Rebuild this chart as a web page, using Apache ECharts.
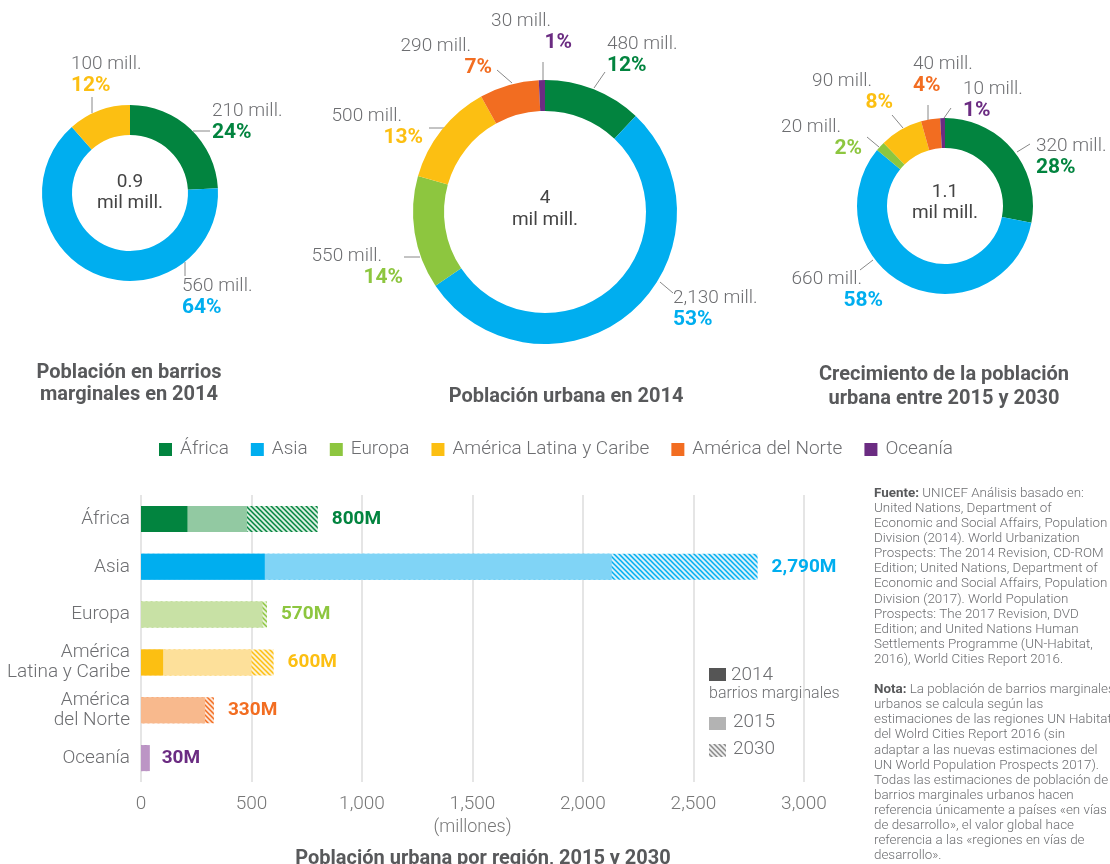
<!DOCTYPE html>
<html>
<head>
<meta charset="utf-8">
<script src="https://cdn.jsdelivr.net/npm/echarts@6/dist/echarts.min.js"></script>
<style>
	html, body { margin: 0; padding: 0; background: #fff; }
	#main { width: 1110px; height: 864px; }
</style>
</head>
<body>
<div id="main"></div>
<script>
/*datos*/
var regions = ['África', 'Asia', 'Europa', 'América Latina y Caribe', 'América del Norte', 'Oceanía'];
var regionColors = ['#02843f', '#00aeef', '#8dc63f', '#fcbf12', '#f26d21', '#6b2c82'];
var lightColors = ['#92c9a2', '#80d4f6', '#c8e1a5', '#fde09a', '#f8b98d', '#bc95c5'];
var hatchBack = ['#d9eedf', '#d6f1fc', '#e8f2da', '#fff1cf', '#fde3d2', '#ebdcee'];

var slumNames = ['África', 'Asia', 'América Latina y Caribe'];
var slumValues = [210, 560, 100];
var slumPercent = [24, 64, 12];

var urbanNames = ['África', 'Asia', 'Europa', 'América Latina y Caribe', 'América del Norte', 'Oceanía'];
var urbanValues = [480, 2130, 550, 500, 290, 30];
var urbanPercent = [12, 53, 14, 13, 7, 1];

var growthNames = ['África', 'Asia', 'Europa', 'América Latina y Caribe', 'América del Norte', 'Oceanía'];
var growthValues = [320, 660, 20, 90, 40, 10];
var growthPercent = [28, 58, 2, 8, 4, 1];

var centerTotals = ['0.9', '4', '1.1'];

var barCategories = ['África', 'Asia', 'Europa', 'América\nLatina y Caribe', 'América\ndel Norte', 'Oceanía'];
var barSlum2014 = [210, 560, null, 100, null, null];
var bar2015 = [480, 2130, 550, 500, 290, 40];
var bar2030 = [800, 2790, 570, 600, 330, 30];

/*posiciones de etiquetas: x, top, align, linea x1, y1, x2, y2*/
var pieLabelPos = [
	[
		[212, 101, 'left', 193, 131, 210, 131],
		[182, 276, 'left', 185, 262, 185, 276],
		[71, 54, 'left', 92, 113, 92, 97]
	],
	[
		[607, 34, 'left', 594, 88, 605, 72],
		[673, 288, 'left', 660, 282, 673, 293],
		[403, 246, 'right', 420, 257, 404, 257],
		[423, 106, 'right', 445, 128, 429, 128],
		[492, 36, 'right', 512, 83, 497, 70],
		[572, 11, 'right', 543, 80, 543, 62]
	],
	[
		[1036, 136, 'left', 1017, 152, 1030, 144],
		[883, 269, 'right', 873, 260, 860, 270],
		[862, 117, 'right', 879, 147, 867, 137],
		[893, 71, 'right', 903, 128, 892, 115],
		[913, 54, 'left', 928, 120, 928, 105],
		[963, 79, 'left', 944, 118, 951, 108]
	]
];

var grayText = '#6d6e71';
var fontName = 'Roboto';

function colorOf(name) {
	return regionColors[regions.indexOf(name)];
}

function fmt(n) {
	return n.toLocaleString('en-US');
}

/*rayado*/
function hatch(bg, fg) {
	var s = 5;
	var c = document.createElement('canvas');
	c.width = s;
	c.height = s;
	var g = c.getContext('2d');
	g.fillStyle = bg;
	g.fillRect(0, 0, s, s);
	g.strokeStyle = fg;
	g.lineWidth = 1.5;
	g.beginPath();
	g.moveTo(0, 0);
	g.lineTo(s, s);
	g.moveTo(-1, s - 1);
	g.lineTo(1, s + 1);
	g.moveTo(s - 1, -1);
	g.lineTo(s + 1, 1);
	g.stroke();
	return { image: c, repeat: 'repeat' };
}

function pieData(names, values, percent) {
	var out = [];
	for(var i = 0; i < names.length; i++) {
		out.push({
			name: names[i],
			value: values[i],
			pct: percent[i],
			itemStyle: { color: colorOf(names[i]) }
		});
	}
	return out;
}

var pctRich = {
	v: { fontSize: 19, color: grayText, fontWeight: 300, lineHeight: 21 },
	vr: { fontSize: 19, color: grayText, fontWeight: 300, lineHeight: 21, padding: [0, 21, 0, 0] }
};
for(var r = 0; r < regions.length; r++) {
	pctRich['p' + r] = { fontSize: 21, fontWeight: 'bold', color: regionColors[r], lineHeight: 21 };
}

function pieSeries(idx, names, values, percent, center, radius) {
	return {
		type: 'pie',
		center: center,
		radius: radius,
		startAngle: 90,
		clockwise: true,
		avoidLabelOverlap: false,
		silent: true,
		data: pieData(names, values, percent),
		label: {
			show: true,
			position: 'outside',
			formatter: function(p) {
				var pos = pieLabelPos[p.seriesIndex][p.dataIndex];
				var vs = pos[2] == 'right' ? 'vr' : 'v';
				var ci = regions.indexOf(p.name);
				return '{' + vs + '|' + fmt(p.value) + ' mill.}\n{p' + ci + '|' + p.data.pct + '%}';
			},
			rich: pctRich
		},
		labelLine: {
			show: true,
			length: 10,
			length2: 10,
			lineStyle: { color: '#888', width: 1 }
		},
		labelLayout: function(params) {
			var pos = pieLabelPos[idx][params.dataIndex];
			return {
				x: pos[0],
				y: pos[1],
				align: pos[2],
				verticalAlign: 'top',
				labelLinePoints: [[pos[3], pos[4]], [pos[5], pos[6]], [pos[5], pos[6]]]
			};
		}
	};
}

/*barras*/
var data2030 = [], data2015 = [], dataSlum = [];
for(var i = 0; i < barCategories.length; i++) {
	data2030.push({
		value: bar2030[i],
		itemStyle: { color: hatch(hatchBack[i], regionColors[i]) },
		label: { color: regionColors[i] }
	});
	data2015.push({ value: bar2015[i], itemStyle: { color: lightColors[i] } });
	dataSlum.push({ value: barSlum2014[i], itemStyle: { color: regionColors[i] } });
}

/*leyenda superior*/
var legendData = [];
for(var k = 0; k < regions.length; k++) {
	if(regions[k] == 'América del Norte') {
		legendData.push({ name: regions[k], textStyle: { padding: [0, 14, 0, 3] } });
	} else {
		legendData.push({ name: regions[k] });
	}
}

var sourceText = [
	'{b|Fuente:} UNICEF Análisis basado en:',
	'United Nations, Department of',
	'Economic and Social Affairs, Population',
	'Division (2014). World Urbanization',
	'Prospects: The 2014 Revision, CD-ROM',
	'Edition; United Nations, Department of',
	'Economic and Social Affairs, Population',
	'Division (2017). World Population',
	'Prospects: The 2017 Revision, DVD',
	'Edition; and United Nations Human',
	'Settlements Programme (UN-Habitat,',
	'2016), World Cities Report 2016.',
	'',
	'{b|Nota:} La población de barrios marginales',
	'urbanos se calcula según las',
	'estimaciones de las regiones UN Habitat',
	'del Wolrd Cities Report 2016 (sin',
	'adaptar a las nuevas estimaciones del',
	'UN World Population Prospects 2017).',
	'Todas las estimaciones de población de',
	'barrios marginales urbanos hacen',
	'referencia únicamente a países «en vías',
	'de desarrollo», el valor global hace',
	'referencia a las «regiones en vías de',
	'desarrollo».'
].join('\n');

var titleStyle = { fontSize: 20, fontWeight: 'bold', color: '#58595b', lineHeight: 22 };

var option = {
	animation: false,
	textStyle: { fontFamily: fontName },
	title: [{
		text: 'Población en barrios\nmarginales en 2014',
		left: 124, top: 357, textAlign: 'center', textStyle: titleStyle
	}, {
		text: 'Población urbana en 2014',
		left: 561, top: 381, textAlign: 'center', textStyle: titleStyle
	}, {
		text: 'Crecimiento de la población\nurbana entre 2015 y 2030',
		left: 939, top: 358, textAlign: 'center',
		textStyle: { fontSize: 20, fontWeight: 'bold', color: '#58595b', lineHeight: 24 }
	}, {
		text: 'Población urbana por región, 2015 y 2030',
		left: 478, top: 843, textAlign: 'center', textStyle: titleStyle
	}],
	legend: {
		data: legendData,
		left: 154,
		top: 435,
		icon: 'rect',
		itemWidth: 13,
		itemHeight: 13,
		itemGap: 22,
		selectedMode: false,
		textStyle: { fontSize: 19, color: grayText, fontWeight: 300, padding: [0, 0, 0, 3] }
	},
	grid: { left: 141, top: 495, width: 663, height: 287, containLabel: false },
	xAxis: {
		type: 'value',
		min: 0,
		max: 3000,
		interval: 500,
		name: '(millones)',
		nameLocation: 'middle',
		nameGap: 36,
		nameTextStyle: { fontSize: 18, color: '#777', fontWeight: 300 },
		axisLine: { show: false },
		axisTick: { show: false },
		axisLabel: {
			fontSize: 19, color: '#777', fontWeight: 300, margin: 13,
			formatter: function(v) { return fmt(v); }
		},
		splitLine: { lineStyle: { color: '#dcdcdc', width: 1.5 } }
	},
	yAxis: {
		type: 'category',
		inverse: true,
		data: barCategories,
		axisLine: { show: false },
		axisTick: { show: false },
		axisLabel: { fontSize: 19, color: grayText, fontWeight: 300, margin: 11, lineHeight: 20 }
	},
	series: [
		pieSeries(0, slumNames, slumValues, slumPercent, [130, 193], [58, 88]),
		pieSeries(1, urbanNames, urbanValues, urbanPercent, [545, 212], [101, 132]),
		pieSeries(2, growthNames, growthValues, growthPercent, [945, 206], [58, 88]),
		{
			name: '2030',
			type: 'bar',
			barWidth: 26,
			barGap: '-100%',
			z: 2,
			silent: true,
			data: data2030,
			label: {
				show: true,
				position: 'right',
				distance: 14,
				fontSize: 19,
				fontWeight: 'bold',
				formatter: function(p) { return fmt(p.value) + 'M'; }
			}
		}, {
			name: '2015',
			type: 'bar',
			barWidth: 26,
			barGap: '-100%',
			z: 3,
			silent: true,
			data: data2015
		}, {
			name: '2014 barrios marginales',
			type: 'bar',
			barWidth: 26,
			barGap: '-100%',
			z: 4,
			silent: true,
			data: dataSlum
		}
	],
	graphic: [
		{ type: 'text', x: 130, y: 193, style: { text: centerTotals[0] + '\nmil mill.', textAlign: 'center', textVerticalAlign: 'middle', fontSize: 19, lineHeight: 21, fill: '#444', fontFamily: fontName } },
		{ type: 'text', x: 545, y: 209, style: { text: centerTotals[1] + '\nmil mill.', textAlign: 'center', textVerticalAlign: 'middle', fontSize: 19, lineHeight: 22, fill: '#444', fontFamily: fontName } },
		{ type: 'text', x: 945, y: 203, style: { text: centerTotals[2] + '\nmil mill.', textAlign: 'center', textVerticalAlign: 'middle', fontSize: 19, lineHeight: 21, fill: '#444', fontFamily: fontName } },
		/*leyenda de barras*/
		{ type: 'rect', shape: { x: 709, y: 668, width: 17, height: 13 }, style: { fill: '#555' } },
		{ type: 'text', x: 731, y: 675, style: { text: '2014', textVerticalAlign: 'middle', fontSize: 19, fill: grayText, fontWeight: 300, fontFamily: fontName } },
		{ type: 'text', x: 709, y: 694, style: { text: 'barrios marginales', textVerticalAlign: 'middle', fontSize: 16, fill: grayText, fontWeight: 300, fontFamily: fontName } },
		{ type: 'rect', shape: { x: 709, y: 717, width: 17, height: 13 }, style: { fill: '#b3b3b3' } },
		{ type: 'text', x: 733, y: 722, style: { text: '2015', textVerticalAlign: 'middle', fontSize: 19, fill: grayText, fontWeight: 300, fontFamily: fontName } },
		{ type: 'rect', shape: { x: 709, y: 744, width: 17, height: 13 }, style: { fill: hatch('#eeeeee', '#888888') } },
		{ type: 'text', x: 733, y: 749, style: { text: '2030', textVerticalAlign: 'middle', fontSize: 19, fill: grayText, fontWeight: 300, fontFamily: fontName } },
		/*fuente y nota*/
		{
			type: 'text', x: 874, y: 486,
			style: {
				text: sourceText,
				fontSize: 13.4,
				lineHeight: 15.1,
				fill: grayText,
				fontFamily: fontName,
				fontWeight: 300,
				rich: {
					b: { fontSize: 13.4, lineHeight: 15.1, fontWeight: 'bold', fill: '#58595b', fontFamily: fontName }
				}
			}
		}
	]
};

var chart = echarts.init(document.getElementById('main'), null, { renderer: 'canvas' });
chart.setOption(option);
</script>
</body>
</html>
